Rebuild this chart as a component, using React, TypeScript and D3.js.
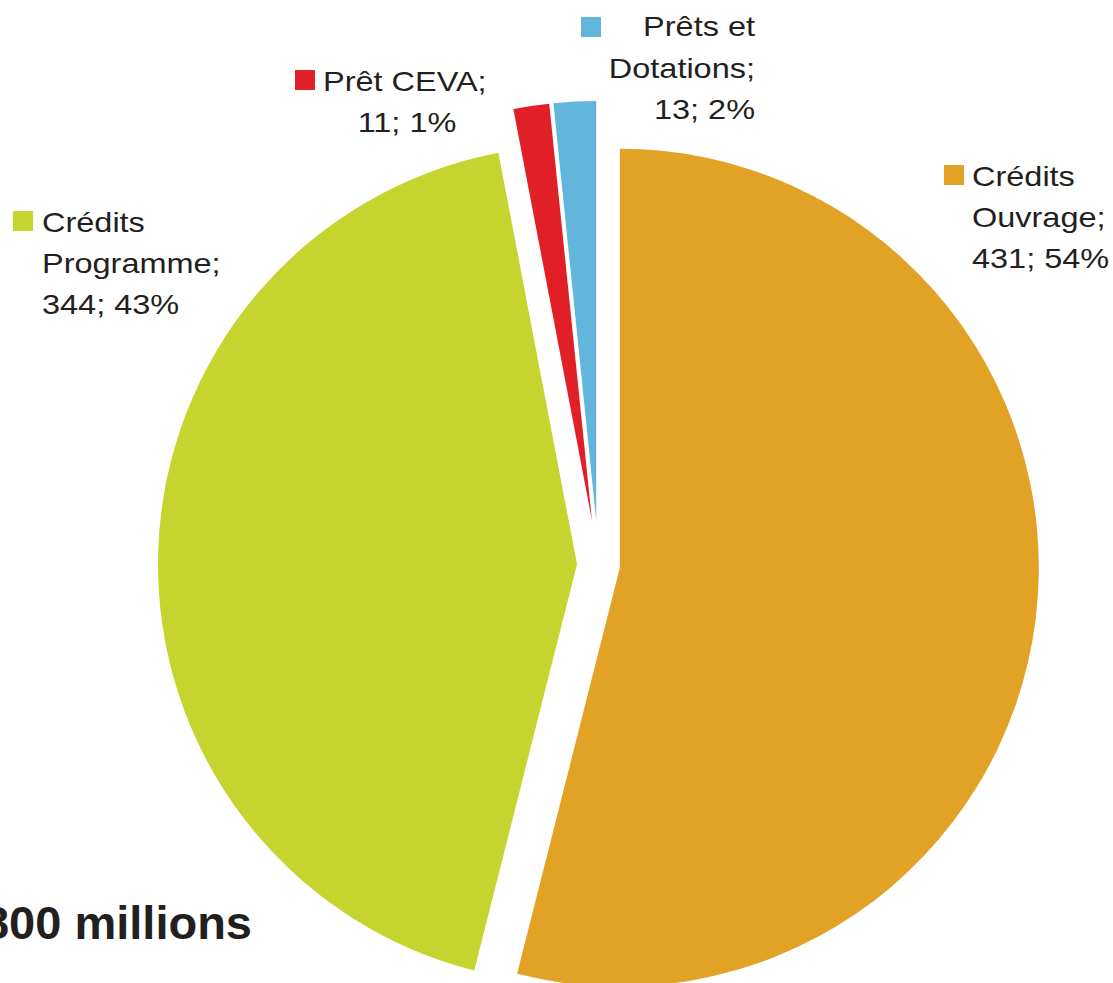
import React from "react";
import * as d3 from "d3";

const categories = ["Crédits Ouvrage", "Crédits Programme", "Prêt CEVA", "Prêts et Dotations"];
const values = [431, 344, 11, 13];
const colors = ["#E2A226", "#C6D42F", "#E01F26", "#62B6DC"];
const totalLabel = "800 millions";

// label lines per slice
const labelLines = [
  ["Crédits", "Ouvrage;", "431; 54%"],
  ["Crédits", "Programme;", "344; 43%"],
  ["Prêt CEVA;", "11; 1%"],
  ["Prêts et", "Dotations;", "13; 2%"],
];

const W = 1113;
const H = 983;
const cx = 598.5;
const cy = 565;
const R = 419;
const explode = [21.5, 21.5, 45, 45];
const stretch = 1.16;

type LabelLayout = { sx: number; sy: number; lines: { x: number; y: number; anchor: string }[] };
const labelLayout: LabelLayout[] = [
  { sx: 944, sy: 165, lines: [{ x: 972, y: 186, anchor: "start" }, { x: 972, y: 227, anchor: "start" }, { x: 972, y: 268, anchor: "start" }] },
  { sx: 13, sy: 211, lines: [{ x: 42, y: 232, anchor: "start" }, { x: 42, y: 273, anchor: "start" }, { x: 42, y: 314, anchor: "start" }] },
  { sx: 295, sy: 70, lines: [{ x: 323, y: 91, anchor: "start" }, { x: 407, y: 132, anchor: "middle" }] },
  { sx: 581, sy: 17, lines: [{ x: 755, y: 36, anchor: "end" }, { x: 755, y: 78, anchor: "end" }, { x: 755, y: 119, anchor: "end" }] },
];

export default function App() {
  const pie = d3
    .pie<number>()
    .sort(null)
    .value((d) => d)
    .startAngle(0)
    .endAngle(2 * Math.PI);
  const arcs = pie(values);
  const arc = d3.arc<d3.PieArcDatum<number>>().innerRadius(0).outerRadius(R);

  return (
    <svg
      width={W}
      height={H}
      style={{ position: "absolute", left: 0, top: 0, display: "block", background: "#fff" }}
      fontFamily="'Liberation Sans', Arial, sans-serif"
    >
      {arcs.map((a, i) => {
        const mid = (a.startAngle + a.endAngle) / 2;
        const dx = Math.sin(mid) * explode[i];
        const dy = -Math.cos(mid) * explode[i];
        return (
          <path
            key={categories[i]}
            d={arc(a) || ""}
            fill={colors[i]}
            transform={`translate(${cx + dx},${cy + dy})`}
          />
        );
      })}
      {labelLayout.map((l, i) => (
        <g key={"lab" + i}>
          <rect x={l.sx} y={l.sy} width={20} height={20} fill={colors[i]} />
          {labelLines[i].map((t, j) => (
            <text
              key={j}
              x={0}
              y={0}
              transform={`translate(${l.lines[j].x},${l.lines[j].y}) scale(${stretch},1)`}
              textAnchor={l.lines[j].anchor as any}
              fontSize={28}
              fill="#231F20"
            >
              {t}
            </text>
          ))}
        </g>
      ))}
      <text x={252} y={939} textAnchor="end" fontSize={47} fontWeight="bold" fill="#231F20">
        {totalLabel}
      </text>
    </svg>
  );
}
